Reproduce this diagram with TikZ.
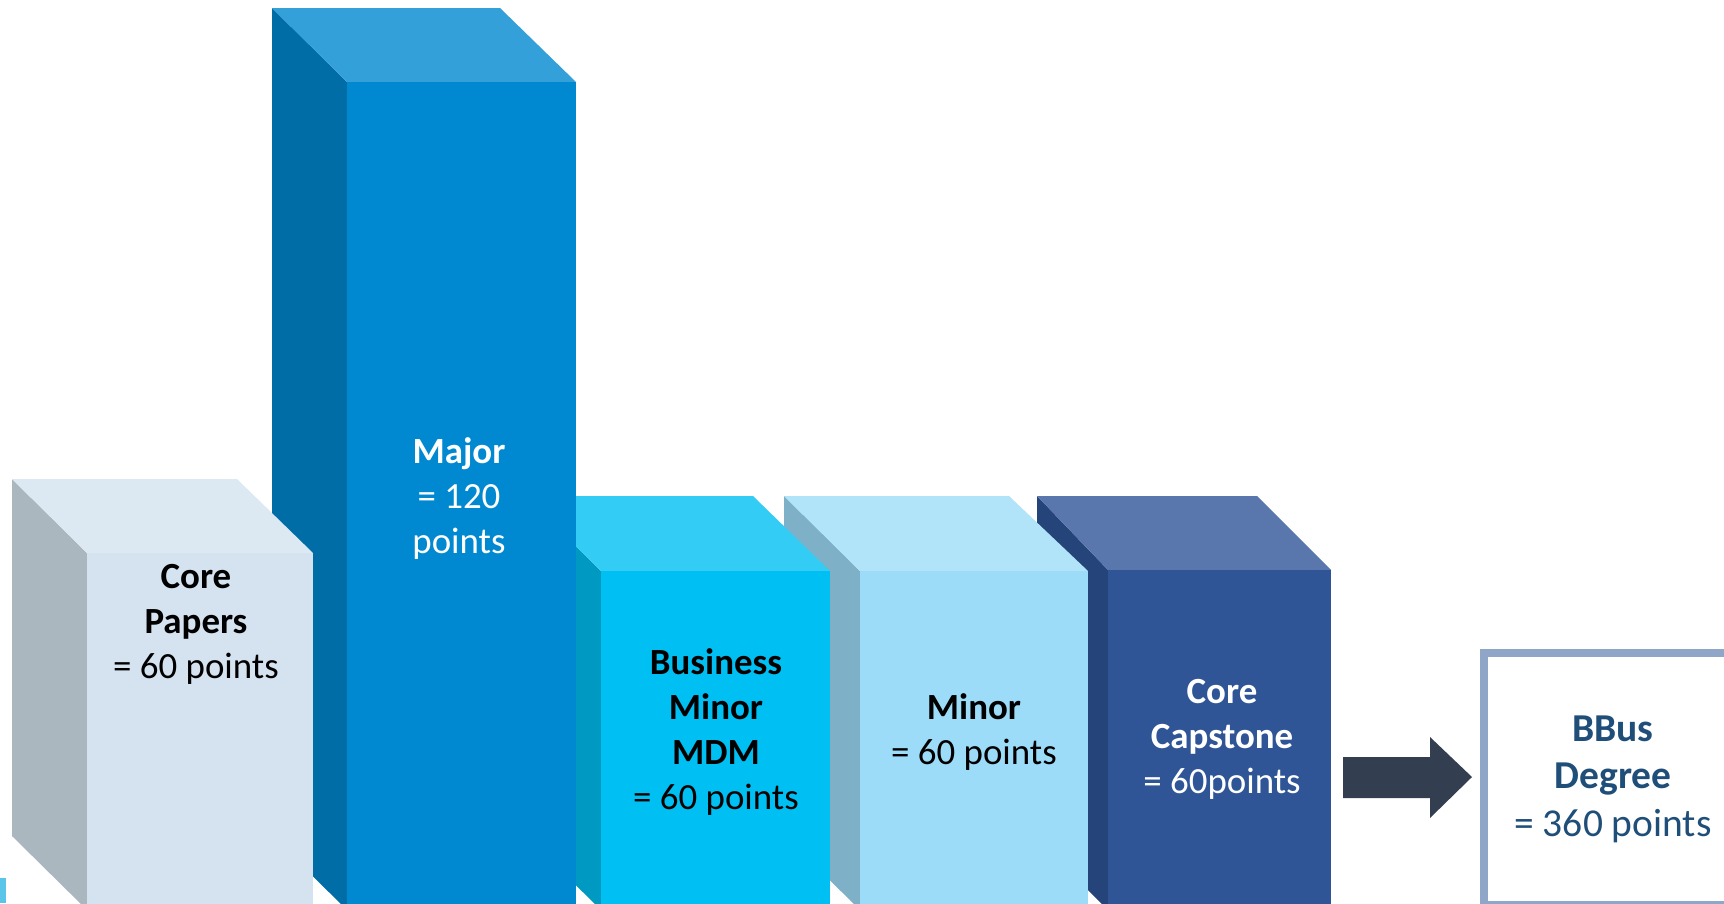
\documentclass[tikz,border=0pt]{standalone}
\usepackage{fontspec}
\setmainfont{Carlito}
\definecolor{cpFront}{HTML}{D4E3EF}
\definecolor{cpTop}{HTML}{DCE9F2}
\definecolor{cpSide}{HTML}{AAB7BF}
\definecolor{mjFront}{HTML}{0089D1}
\definecolor{mjTop}{HTML}{33A0DA}
\definecolor{mjSide}{HTML}{006DA7}
\definecolor{buFront}{HTML}{00BFF2}
\definecolor{buTop}{HTML}{33CCF5}
\definecolor{buSide}{HTML}{0099C2}
\definecolor{miFront}{HTML}{9DDCF8}
\definecolor{miTop}{HTML}{B1E3F9}
\definecolor{miSide}{HTML}{7EB0C7}
\definecolor{caFront}{HTML}{2F5597}
\definecolor{caTop}{HTML}{5977AC}
\definecolor{caSide}{HTML}{254479}
\definecolor{arrowCol}{HTML}{333F50}
\definecolor{bbBorder}{HTML}{8FA6C8}
\definecolor{bbText}{HTML}{1F4E79}
\definecolor{tinyCyan}{HTML}{5BC5E9}
\begin{document}
\begin{tikzpicture}[x=1pt,y=-1pt,
  frontface/.style={inner sep=0pt, outer sep=0pt, anchor=north west, draw=none},
  label36/.style={align=center, inner sep=0pt, font=\fontsize{36.9}{45}\selectfont},
  label39/.style={align=center, inner sep=0pt, font=\fontsize{39.5}{47.5}\selectfont, text=bbText}]
\useasboundingbox (0,0) rectangle (1724,903);
\clip (0,0) rectangle (1724,903);

% Core Capstone
\fill[caSide] (1037,496) -- (1108,570) -- (1108,910) -- (1037,839) -- cycle;
\fill[caTop] (1037,496) -- (1257,496) -- (1331,570) -- (1108,570) -- cycle;
\node[frontface, fill=caFront, minimum width=223, minimum height=340] (cap) at (1108,570) {};
\node[label36, text=white] (capT) at (1222,739) {\textbf{Core}\\\textbf{Capstone}\\= 60points};

% Minor
\fill[miSide] (784,496) -- (860,571) -- (860,910) -- (784,835) -- cycle;
\fill[miTop] (784,496) -- (1009,496) -- (1088,571) -- (860,571) -- cycle;
\node[frontface, fill=miFront, minimum width=228, minimum height=340] (minor) at (860,571) {};
\node[label36, text=black] (minorT) at (974,732) {\textbf{Minor}\\= 60 points};

% Business Minor MDM
\fill[buSide] (525,496) -- (601,571) -- (601,910) -- (525,835) -- cycle;
\fill[buTop] (525,496) -- (753,496) -- (830,571) -- (601,571) -- cycle;
\node[frontface, fill=buFront, minimum width=229, minimum height=340] (bus) at (601,571) {};
\node[label36, text=black] (busT) at (716,732) {\textbf{Business}\\\textbf{Minor}\\\textbf{MDM}\\= 60 points};

% Major
\fill[mjSide] (272,8) -- (347,82) -- (347,910) -- (272,836) -- cycle;
\fill[mjTop] (272,8) -- (500,8) -- (576,82) -- (347,82) -- cycle;
\node[frontface, fill=mjFront, minimum width=229, minimum height=830] (major) at (347,82) {};
\node[label36, text=white] (majorT) at (459,499) {\textbf{Major}\\= 120\\points};

% Core Papers
\fill[cpSide] (12,479) -- (87,553) -- (87,910) -- (12,836) -- cycle;
\fill[cpTop] (12,479) -- (237,479) -- (313,553) -- (87,553) -- cycle;
\node[frontface, fill=cpFront, minimum width=226, minimum height=360] (core) at (87,553) {};
\node[label36, text=black] (coreT) at (196,624) {\textbf{Core}\\\textbf{Papers}\\= 60 points};

% BBus Degree box
\node[inner sep=0pt, outer sep=0pt, draw=bbBorder, line width=7.5pt, fill=white,
      minimum width=270, minimum height=252, anchor=north west] (bbus) at (1484,653) {};
\node[label39] (bbusT) at (1613,779) {\textbf{BBus}\\\textbf{Degree}\\= 360 points};

% Arrow from capstone to degree
\coordinate (aS) at ([xshift=12pt]cap.east |- 0,777);
\coordinate (aE) at ([xshift=-12pt]bbus.west |- 0,777);
\fill[arrowCol] (aS |- 0,757) -- (1430,757) -- (1430,737) -- (aE) -- (1430,818) -- (1430,798) -- (aS |- 0,798) -- cycle;

% small cyan mark at bottom-left
\fill[tinyCyan] (0,878) rectangle (6,903);
\end{tikzpicture}
\end{document}
